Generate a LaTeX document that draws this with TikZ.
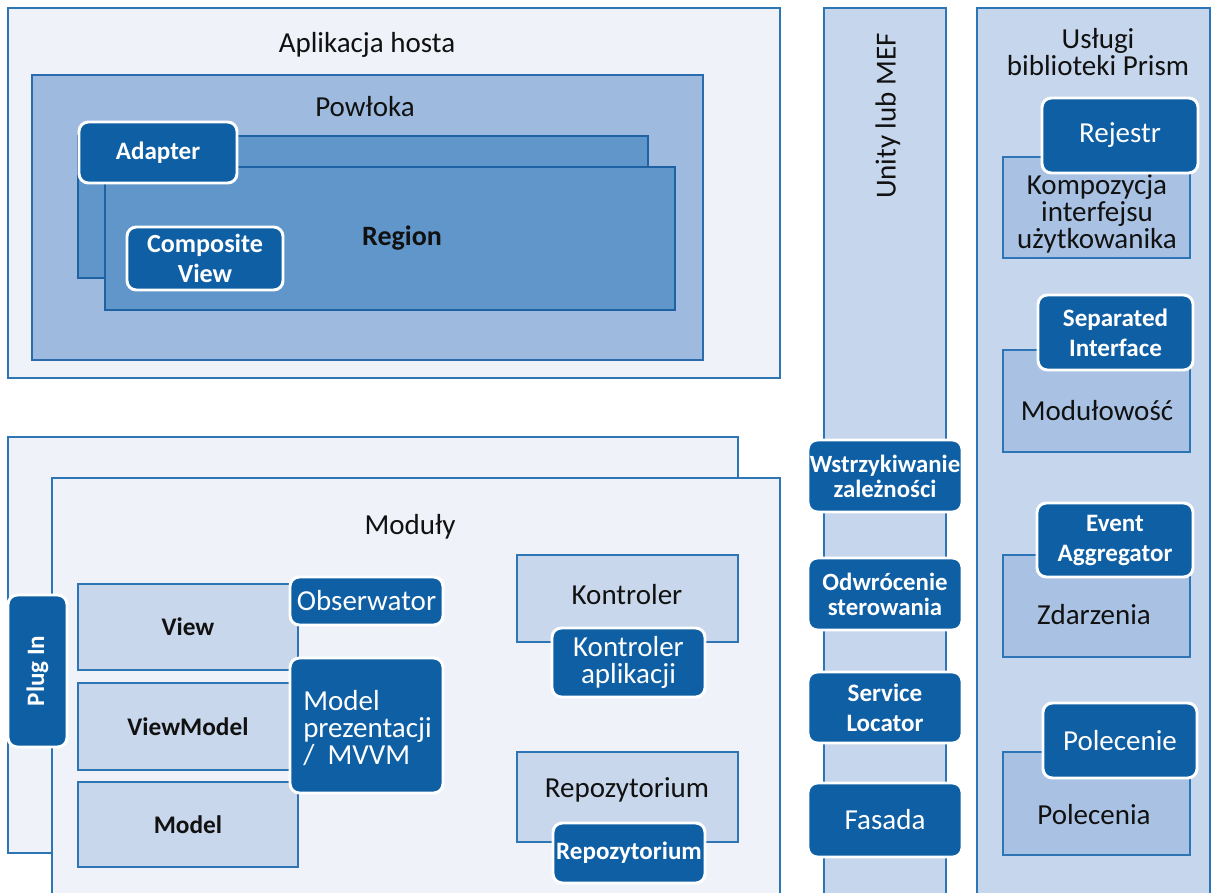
\documentclass[tikz,border=0pt]{standalone}
\usepackage{fontspec}
\setmainfont{Carlito}
\usetikzlibrary{fit}
\definecolor{bord}{HTML}{2E75B6}
\definecolor{pale}{HTML}{EFF3F9}
\definecolor{shell}{HTML}{9EBBDF}
\definecolor{shellbd}{HTML}{2A6CAE}
\definecolor{regfill}{HTML}{6096CA}
\definecolor{regbd}{HTML}{1F62A4}
\definecolor{dk}{HTML}{0F5FA5}
\definecolor{col}{HTML}{C6D6EC}
\definecolor{grp}{HTML}{A9C2E3}
\definecolor{lite}{HTML}{C8D7EC}
\definecolor{ink}{HTML}{111111}
\tikzset{
  frame/.style={draw=bord, line width=2pt, fill=pale, inner sep=0pt},
  shellbox/.style={draw=shellbd, line width=1.6pt, fill=shell, inner sep=0pt},
  regbox/.style={draw=regbd, line width=2pt, fill=regfill, inner sep=0pt},
  colbox/.style={draw=bord, line width=2pt, fill=col, inner sep=0pt},
  grpbox/.style={draw=bord, line width=2pt, fill=grp, inner sep=0pt},
  litebox/.style={draw=bord, line width=2pt, fill=lite, inner sep=0pt},
  dark/.style={draw=white, line width=2.2pt, fill=dk, rounded corners=7pt, inner sep=0pt},
  wb/.style={text=white, align=center, inner sep=0pt, font=\fontsize{18.8}{22.5}\selectfont\bfseries},
  wbt/.style={text=white, align=center, inner sep=0pt, font=\fontsize{18.6}{18.8}\selectfont\bfseries},
  wr/.style={text=white, align=center, inner sep=0pt, font=\fontsize{21.75}{20}\selectfont},
  lbl/.style={text=ink, align=center, inner sep=0pt, font=\fontsize{21.75}{20}\selectfont},
  lblb/.style={text=ink, align=center, inner sep=0pt, font=\fontsize{19}{22}\selectfont\bfseries},
}
\begin{document}
\begin{tikzpicture}[x=0.75pt,y=-0.75pt]
\useasboundingbox (0,0) rectangle (1212,892);
\clip (0,0) rectangle (1212,892);
\fill[white] (0,0) rectangle (1212,892);

% ---------- host application ----------
\node[frame, fit={(8,8) (780,378)}] (host) {};
\node[lbl] (hostt) at (367,45) {Aplikacja hosta};
\node[shellbox, fit={(32,75) (703,360)}] (shell) {};
\node[lbl] (shellt) at (365,107) {Powłoka};
\node[regbox, fit={(78,136) (648,278)}] (regback) {};
\node[regbox, fit={(105,167) (675,310)}] (region) {};
\node[lblb, font=\fontsize{21}{22}\selectfont\bfseries] (regiont) at (402,238) {Region};
\node[dark, fit={(79,122) (237,183)}] (adapter) {};
\node[wb] (adaptert) at (adapter.center) {Adapter};
\node[dark, fit={(127,227) (283,290)}] (compview) {};
\node[wb, font=\fontsize{19.6}{22.5}\selectfont\bfseries] (compviewt) at (compview.center) {Composite\\View};

% ---------- modules ----------
\node[frame, fit={(8,437) (738,853)}] (modback) {};
\node[frame, fit={(52,478) (780,905)}] (modules) {};
\node[lbl] (modt) at (410,527) {Moduły};
\node[dark, fit={(8,595) (67,747)}] (plugin) {};
\node[wb, rotate=90] (plugt) at (plugin.center) {Plug In};

\node[litebox, fit={(78,584) (298,670)}] (view) {};
\node[lblb] (viewt) at (view.center) {View};
\node[litebox, fit={(78,683) (298,770)}] (vm) {};
\node[lblb] (vmt) at (vm.center) {ViewModel};
\node[litebox, fit={(78,782) (298,867)}] (model) {};
\node[lblb] (modelt) at (model.center) {Model};
\node[dark, fit={(290,577) (443,625)}] (obs) {};
\node[wr] (obst) at (obs.center) {Obserwator};
\node[dark, fit={(290,658) (443,793)}] (mvvm) {};
\node[text=white, align=left, inner sep=0pt, font=\fontsize{21.75}{20.5}\selectfont, anchor=west] (mvvmt) at (303,728) {Model\\prezentacji\\/ \ MVVM};

\node[litebox, fit={(517,555) (738,642)}] (ctrl) {};
\node[lbl] (ctrlt) at (627,595) {Kontroler};
\node[dark, fit={(552,628) (705,697)}] (appctrl) {};
\node[wr] (appctrlt) at (appctrl.center) {Kontroler\\aplikacji};
\node[litebox, fit={(517,752) (738,842)}] (repo) {};
\node[lbl] (repot) at (627,790) {Repozytorium};
\node[dark, fit={(553,823) (705,883)}] (repobtn) {};
\node[wb] (repobtnt) at (repobtn.center) {Repozytorium};

% ---------- Unity / MEF column ----------
\node[colbox, fit={(824,8) (946,905)}] (unity) {};
\node[lbl, rotate=90] (unityt) at (888,116) {Unity lub MEF};
\node[dark, fit={(808,440) (962,512)}] (di) {};
\node[wbt] (dit) at (di.center) {Wstrzykiwanie\\zależności};
\node[dark, fit={(808,558) (962,630)}] (ioc) {};
\node[wbt] (ioct) at (ioc.center) {Odwrócenie\\sterowania};
\node[dark, fit={(808,672) (962,743)}] (sl) {};
\node[wb] (slt) at (sl.center) {Service\\Locator};
\node[dark, fit={(808,783) (962,857)}] (facade) {};
\node[wr] (facadet) at (facade.center) {Fasada};

% ---------- Prism services column ----------
\node[colbox, fit={(977,8) (1210,905)}] (prism) {};
\node[lbl] (prismt) at (1098,52) {Usługi\\biblioteki Prism};

\node[grpbox, fit={(1003,157) (1190,258)}] (ui) {};
\node[lbl] (uit) at (1097,214) {Kompozycja\\interfejsu\\użytkowanika};
\node[dark, fit={(1042,98) (1198,173)}] (reg) {};
\node[wr] (regt) at (reg.center) {Rejestr};

\node[grpbox, fit={(1003,350) (1190,452)}] (modul) {};
\node[lbl] (modult) at (1097,411) {Modułowość};
\node[dark, fit={(1038,295) (1193,370)}] (sep) {};
\node[wb] (sept) at (sep.center) {Separated\\Interface};

\node[grpbox, fit={(1003,555) (1190,657)}] (events) {};
\node[lbl] (eventst) at (1094,615) {Zdarzenia};
\node[dark, fit={(1037,503) (1193,577)}] (agg) {};
\node[wb] (aggt) at (agg.center) {Event\\Aggregator};

\node[grpbox, fit={(1003,752) (1190,855)}] (cmds) {};
\node[lbl] (cmdst) at (1094,815) {Polecenia};
\node[dark, fit={(1043,703) (1197,778)}] (cmd) {};
\node[wr] (cmdt) at (cmd.center) {Polecenie};
\end{tikzpicture}
\end{document}
